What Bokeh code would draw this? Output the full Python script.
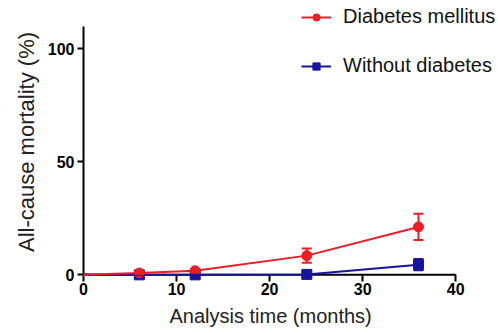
from bokeh.plotting import figure
from bokeh.models import Range1d, LinearAxis, Whisker, ColumnDataSource, Legend, LegendItem, FixedTicker, Title
from bokeh.embed import file_html
from bokeh.resources import INLINE

months = [0, 6, 12, 24, 36]
dm_mort = [0, 0.8, 1.8, 8.5, 21.2]
dm_err = [0, 0.5, 0.8, 3.2, 5.8]
nodm_mort = [0, 0, 0, 0.2, 4.5]
nodm_err = [0, 0, 0, 0.3, 2.5]
x_ticks = [0, 10, 20, 30, 40]
y_ticks = [0, 50, 100]

RED = "#EE1C25"
BLUE = "#1414A0"
FONT = "Liberation Sans"

p = figure(width=498, height=333, output_backend="svg", toolbar_location=None,
           x_range=Range1d(0, 44.6), y_range=Range1d(-2.5, 120),
           x_axis_type=None, y_axis_type=None,
           min_border_left=83, min_border_right=0, min_border_top=3, min_border_bottom=53)
p.outline_line_color = None
p.grid.visible = False
p.background_fill_color = "white"

def style_axis(ax):
    ax.axis_line_width = 2
    ax.axis_line_color = "black"
    ax.major_tick_line_width = 2
    ax.major_tick_out = 6
    ax.major_tick_in = 0
    ax.minor_tick_line_color = None
    ax.major_label_text_font = FONT
    ax.major_label_text_font_style = "bold"
    ax.major_label_text_font_size = "16px"
    ax.major_label_text_color = "black"
    ax.axis_label_text_font = FONT
    ax.axis_label_text_font_style = "normal"
    ax.axis_label_text_color = "#222222"

xa = LinearAxis(ticker=FixedTicker(ticks=x_ticks), bounds=(x_ticks[0], x_ticks[-1]))
style_axis(xa)
xa.axis_line_color = None
xa.major_tick_in = 6
xa.major_tick_out = 1
xa.major_label_standoff = 1
p.add_layout(xa, "below")

xlabel = Title(text="Analysis time (months)", align="left", offset=86,
               text_font=FONT, text_font_style="normal", text_font_size="20px",
               text_color="#222222", standoff=11)
p.add_layout(xlabel, "below")

ya = LinearAxis(ticker=FixedTicker(ticks=y_ticks), axis_label="All-cause mortality (%)",
                bounds=(0, 110))
style_axis(ya)
ya.major_label_standoff = 3
ya.axis_label_standoff = 6
ya.axis_label_text_font_size = "22px"
p.add_layout(ya, "left")

# x axis line drawn at y = 0 across the tick span
p.segment(x0=[x_ticks[0]], y0=[y_ticks[0]], x1=[x_ticks[-1]], y1=[y_ticks[0]],
          line_color="black", line_width=2, level="underlay")

src_dm = ColumnDataSource(dict(x=months, y=dm_mort,
                               lo=[a - b for a, b in zip(dm_mort, dm_err)],
                               hi=[a + b for a, b in zip(dm_mort, dm_err)]))
src_no = ColumnDataSource(dict(x=months, y=nodm_mort,
                               lo=[a - b for a, b in zip(nodm_mort, nodm_err)],
                               hi=[a + b for a, b in zip(nodm_mort, nodm_err)]))
pts_dm = ColumnDataSource(dict(x=months[1:], y=dm_mort[1:]))
pts_no = ColumnDataSource(dict(x=months[1:], y=nodm_mort[1:]))

def whisker(src, color):
    w = Whisker(source=src, base="x", lower="lo", upper="hi", line_color=color, line_width=2,
                level="annotation")
    for h in (w.upper_head, w.lower_head):
        h.size = 10
        h.line_color = color
        h.line_width = 2
    p.add_layout(w)

l_no = p.line("x", "y", source=src_no, color=BLUE, line_width=2, level="annotation")
s_no = p.scatter("x", "y", source=pts_no, marker="square", size=10, color=BLUE, level="annotation")
whisker(src_no, BLUE)

l_dm = p.line("x", "y", source=src_dm, color=RED, line_width=2, level="annotation")
s_dm = p.scatter("x", "y", source=pts_dm, marker="circle", size=10, color=RED, level="annotation")
whisker(src_dm, RED)

legend = Legend(items=[LegendItem(label="Diabetes mellitus", renderers=[l_dm, s_dm]),
                       LegendItem(label="Without diabetes", renderers=[l_no, s_no])],
                location=(218, 203), orientation="vertical",
                label_text_font=FONT, label_text_font_size="20px", label_text_color="#111111",
                glyph_width=30, glyph_height=18, label_height=18, spacing=26,
                label_standoff=12, padding=0, margin=0,
                border_line_color=None, background_fill_alpha=0)
p.add_layout(legend, "center")

open("out.html", "w").write(file_html(p, INLINE))
